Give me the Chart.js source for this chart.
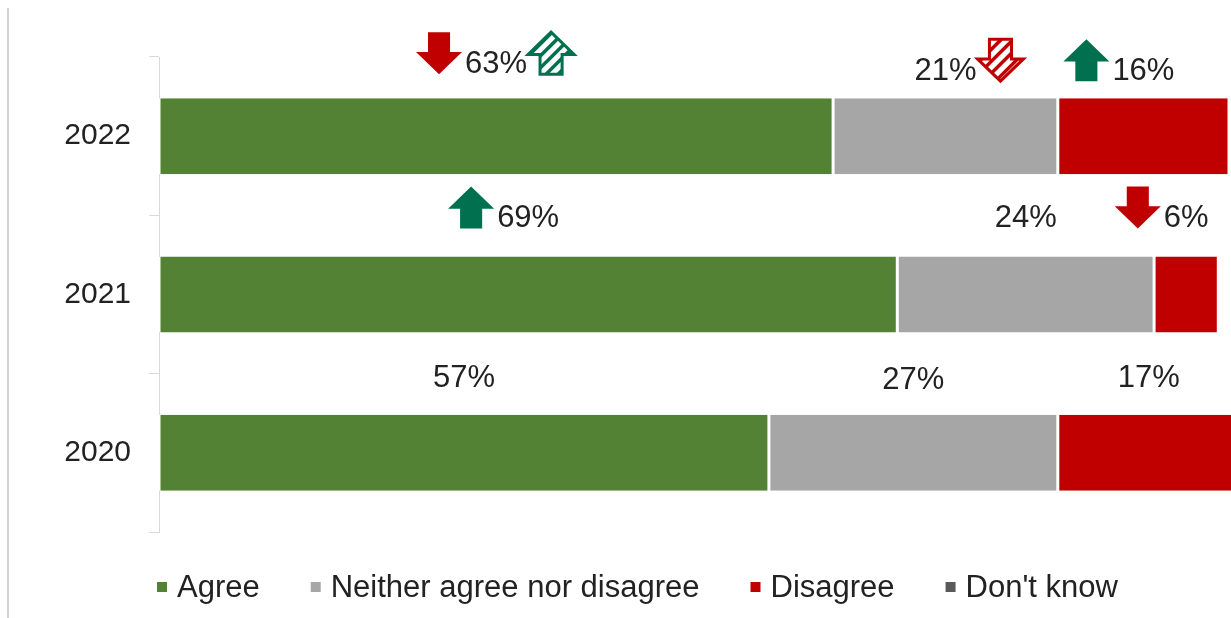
<html>
<head>
<style>
  body { margin: 0; background: #fff; }
  #wrap { position: relative; width: 1231px; height: 618px; }
</style>
</head>
<body>
<div id="wrap"><canvas id="myChart"></canvas></div>
<script src="https://cdn.jsdelivr.net/npm/chart.js@4/dist/chart.umd.min.js"></script>
<script>
// data
var years = ['2022', '2021', '2020'];
var agree = [63, 69, 57];
var neither = [21, 24, 27];
var disagree = [16, 6, 17];
var dontKnow = [0, 0, 0];
var seriesNames = ['Agree', 'Neither agree nor disagree', 'Disagree', "Don't know"];

// change markers shown next to the value labels
// row = year index, series = dataset index
var changeArrows = [
    { row: 0, series: 0, dir: 'down', hatched: false, side: 'left' },
    { row: 0, series: 0, dir: 'up',   hatched: true,  side: 'right' },
    { row: 0, series: 1, dir: 'down', hatched: true,  side: 'right' },
    { row: 0, series: 2, dir: 'up',   hatched: false, side: 'left' },
    { row: 1, series: 0, dir: 'up',   hatched: false, side: 'left' },
    { row: 1, series: 2, dir: 'down', hatched: false, side: 'left' }
];

var colors = ['#548235', '#a6a6a6', '#c00000', '#595959'];
var upColor = '#00704f';
var downColor = '#c00000';
var textColor = '#222222';
var fontFamily = '"Liberation Sans", Arial, sans-serif';

// small vertical nudges of the value labels (px from bar top), per row / series
var labelDy = [[-34, -27, -27], [-38, -38, -38], [-36, -34, -36]];

function arrowPath(ctx, x0, y0, w, h, dir) {
    var cx = x0 + w / 2;
    var sw = w * 0.48;
    var hh = h * 0.53;
    ctx.beginPath();
    if (dir === 'up') {
        ctx.moveTo(cx, y0);
        ctx.lineTo(x0 + w, y0 + hh);
        ctx.lineTo(cx + sw / 2, y0 + hh);
        ctx.lineTo(cx + sw / 2, y0 + h);
        ctx.lineTo(cx - sw / 2, y0 + h);
        ctx.lineTo(cx - sw / 2, y0 + hh);
        ctx.lineTo(x0, y0 + hh);
    } else {
        ctx.moveTo(cx, y0 + h);
        ctx.lineTo(x0 + w, y0 + h - hh);
        ctx.lineTo(cx + sw / 2, y0 + h - hh);
        ctx.lineTo(cx + sw / 2, y0);
        ctx.lineTo(cx - sw / 2, y0);
        ctx.lineTo(cx - sw / 2, y0 + h - hh);
        ctx.lineTo(x0, y0 + h - hh);
    }
    ctx.closePath();
}

function drawArrow(ctx, x0, y0, w, h, dir, hatched) {
    var col = dir === 'up' ? upColor : downColor;
    ctx.save();
    arrowPath(ctx, x0, y0, w, h, dir);
    if (!hatched) {
        ctx.fillStyle = col;
        ctx.fill();
    } else {
        ctx.save();
        ctx.clip();
        ctx.strokeStyle = col;
        ctx.lineWidth = 3.5;
        for (var k = -h; k < w + h; k += 12) {
            ctx.beginPath();
            ctx.moveTo(x0 + k, y0 + h);
            ctx.lineTo(x0 + k + h, y0);
            ctx.stroke();
        }
        ctx.restore();
        arrowPath(ctx, x0, y0, w, h, dir);
        ctx.strokeStyle = col;
        ctx.lineWidth = 3;
        ctx.stroke();
    }
    ctx.restore();
}

var labelsPlugin = {
    id: 'valueLabels',
    beforeDraw: function(chart) {
        // thin grey frame line on the left of the picture
        var ctx = chart.ctx;
        ctx.save();
        ctx.strokeStyle = '#d0d0d0';
        ctx.lineWidth = 2;
        ctx.beginPath();
        ctx.moveTo(8, 8);
        ctx.lineTo(8, chart.height);
        ctx.stroke();
        ctx.restore();
    },
    afterDatasetsDraw: function(chart) {
        var ctx = chart.ctx;
        ctx.save();
        ctx.font = '31px ' + fontFamily;
        ctx.fillStyle = textColor;
        ctx.textAlign = 'center';
        ctx.textBaseline = 'middle';
        var boxes = {};
        chart.data.datasets.forEach(function(ds, d) {
            var meta = chart.getDatasetMeta(d);
            meta.data.forEach(function(el, i) {
                var v = ds.data[i];
                if (!v) return;
                var x = (el.x + el.base) / 2;
                var y = el.y - el.height / 2 + labelDy[i][d];
                var txt = v + '%';
                ctx.fillText(txt, x, y);
                var tw = ctx.measureText(txt).width;
                boxes[i + '_' + d] = { left: x - tw / 2, right: x + tw / 2, cy: y };
            });
        });
        changeArrows.forEach(function(a) {
            var b = boxes[a.row + '_' + a.series];
            if (!b) return;
            var w = 46, h = 42;
            var x0 = a.side === 'left' ? b.left - 3 - w : b.right + 1;
            var y0 = b.cy - 11 - h / 2;
            drawArrow(ctx, x0, y0, w, h, a.dir, a.hatched);
        });
        ctx.restore();
    },
    afterDraw: function(chart) {
        // legend row under the plot
        var ctx = chart.ctx;
        ctx.save();
        ctx.font = '31px ' + fontFamily;
        ctx.textBaseline = 'middle';
        ctx.textAlign = 'left';
        var x = chart.chartArea.left - 2;
        var y = 587;
        chart.data.datasets.forEach(function(ds) {
            ctx.fillStyle = ds.backgroundColor;
            ctx.fillRect(x, y - 5, 10, 10);
            ctx.fillStyle = textColor;
            ctx.fillText(ds.label, x + 20, y + 1);
            x += 20 + ctx.measureText(ds.label).width + 51;
        });
        ctx.restore();
    }
};

var seriesData = [agree, neither, disagree, dontKnow];
var datasets = [];
for (var s = 0; s < seriesData.length; s++) {
    datasets.push({
        label: seriesNames[s],
        data: seriesData[s],
        backgroundColor: colors[s],
        borderColor: '#ffffff',
        borderWidth: { left: 1.5, right: 1.5, top: 0, bottom: 0 },
        borderSkipped: false,
        categoryPercentage: 1,
        barPercentage: 0.48,
        clip: false
    });
}

var ctx = document.getElementById('myChart').getContext('2d');
var chart = new Chart(ctx, {
    type: 'bar',
    data: { labels: years, datasets: datasets },
    plugins: [labelsPlugin],
    options: {
        indexAxis: 'y',
        responsive: true,
        maintainAspectRatio: false,
        animation: false,
        layout: { padding: { top: 57, bottom: 86, right: 2, left: 0 } },
        plugins: {
            legend: { display: false },
            tooltip: { enabled: false }
        },
        scales: {
            x: { stacked: true, display: false, min: 0, max: 100 },
            y: {
                stacked: true,
                afterFit: function(scale) { scale.width = 159; },
                grid: {
                    drawOnChartArea: false,
                    tickLength: 10,
                    color: '#d9d9d9',
                    offset: true
                },
                border: { color: '#d9d9d9', width: 1 },
                ticks: {
                    color: textColor,
                    padding: 18,
                    font: { family: fontFamily, size: 30 }
                }
            }
        }
    }
});
</script>
</body>
</html>
